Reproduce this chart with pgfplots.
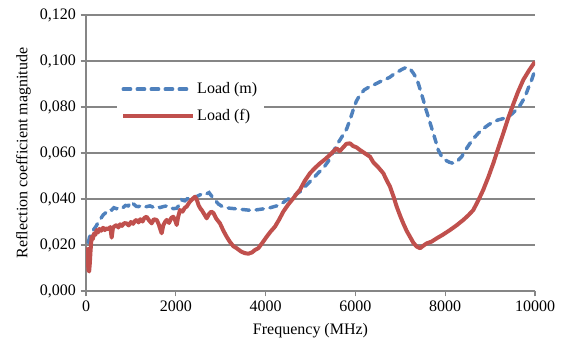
\documentclass[border=0pt]{standalone}
\usepackage{fontspec}
\setmainfont{Liberation Serif}
\usepackage{pgfplots}
\pgfplotsset{compat=1.18}
\definecolor{gridgray}{RGB}{134,134,134}
\definecolor{xlblue}{RGB}{79,129,189}
\definecolor{xlred}{RGB}{192,80,77}
\begin{document}
\begin{tikzpicture}
\useasboundingbox (-64.5pt,-40.5pt) rectangle (357.75pt,218.25pt);
\begin{axis}[
  scale only axis,
  width=336.75pt, height=207pt,
  xmin=0, xmax=10000, ymin=0, ymax=0.12,
  xtick={0,2000,4000,6000,8000,10000},
  ytick={0,0.02,0.04,0.06,0.08,0.1,0.12},
  scaled y ticks=false, scaled x ticks=false,
  axis lines*=left,
  axis line style={gridgray, line width=0.8pt, -},
  tick style={gridgray, line width=0.8pt},
  tick align=outside,
  major tick length=4pt,
  ymajorgrids,
  grid style={gridgray, line width=0.8pt},
  /pgf/number format/assume math mode=true,
  xticklabel style={/pgf/number format/.cd, fixed, 1000 sep={}},
  yticklabel style={/pgf/number format/.cd, fixed, fixed zerofill, precision=3, use comma},
  ticklabel style={font=\fontsize{12}{14}\selectfont},
  xlabel={Frequency (MHz)},
  ylabel={Reflection coefficient magnitude},
  label style={font=\fontsize{12}{14}\selectfont},
  xlabel style={yshift=-2pt},
  legend style={at={(rel axis cs:0.069,0.78)}, anchor=north west, draw=none, fill=white,
    font=\fontsize{12}{14}\selectfont, row sep=6pt, inner sep=3pt},
  legend cell align=left,
  legend image code/.code={\draw[#1] (0pt,0pt) -- (52pt,0pt);},
]
\addplot[xlblue, line width=2.6pt, dash pattern=on 5.5pt off 5pt, line cap=round] coordinates {
(50,0.021) (80,0.0235) (120,0.0245) (163,0.0265) (220,0.028) (274,0.030) (330,0.0315)
(380,0.033) (423,0.0338) (480,0.0345) (530,0.0355) (572,0.0352) (620,0.0362) (680,0.0358)
(757,0.0367) (820,0.0362) (880,0.0372) (940,0.0370) (1017,0.0388) (1060,0.0378) (1120,0.0368)
(1165,0.0367) (1250,0.0372) (1330,0.0366) (1425,0.0370) (1500,0.0364) (1580,0.0369)
(1650,0.0363) (1722,0.0367) (1800,0.0370) (1870,0.0362) (1950,0.0358) (2020,0.0360)
(2080,0.0375) (2131,0.0396) (2200,0.0392) (2280,0.0405) (2390,0.0403) (2480,0.0412)
(2560,0.0420) (2612,0.0425) (2680,0.0422) (2740,0.0428) (2835,0.0403) (2950,0.0378)
(3058,0.0364) (3200,0.0360) (3356,0.0357) (3500,0.0354) (3652,0.0351) (3800,0.0353)
(3949,0.0357) (4100,0.0362) (4246,0.0370) (4360,0.0380) (4469,0.0396) (4620,0.0412)
(4766,0.0432) (4900,0.0458) (5062,0.049) (5180,0.0515) (5285,0.0534) (5400,0.0565)
(5508,0.0606) (5600,0.064) (5657,0.0657) (5730,0.068) (5806,0.0705) (5880,0.0745)
(5950,0.0787) (6020,0.0825) (6102,0.0853) (6200,0.0875) (6325,0.0889) (6450,0.0900)
(6547,0.0910) (6650,0.0918) (6770,0.0930) (6870,0.0945) (6955,0.0954) (7050,0.0965)
(7142,0.0973) (7220,0.0965) (7290,0.0947) (7350,0.0928) (7400,0.0903) (7460,0.0865)
(7512,0.0831) (7570,0.0790) (7623,0.0758) (7680,0.0720) (7735,0.0686) (7790,0.0650)
(7846,0.0613) (7920,0.0585) (7995,0.0570) (8090,0.0560) (8180,0.0555) (8270,0.0565)
(8367,0.0584) (8460,0.0615) (8552,0.0642) (8640,0.0665) (8737,0.0686) (8850,0.0706)
(8960,0.0722) (9070,0.0735) (9182,0.0744) (9300,0.0750) (9405,0.0758) (9500,0.0772)
(9591,0.0790) (9670,0.0808) (9739,0.0831) (9800,0.0856) (9850,0.0882) (9920,0.0915)
(10000,0.0961)
};
\addlegendentry{Load (m)}
\addplot[xlred, line width=3pt, line join=round] coordinates {
(20,0.019) (40,0.013) (55,0.009) (70,0.0085) (85,0.012) (100,0.017) (115,0.021) (127,0.0236)
(150,0.0225) (180,0.025) (210,0.0245) (238,0.0265) (270,0.0255) (300,0.027) (340,0.0262)
(380,0.0275) (420,0.0265) (461,0.0273) (500,0.0268) (540,0.0278) (572,0.0232) (600,0.0275)
(640,0.0282) (683,0.0287) (720,0.0276) (760,0.0290) (800,0.0283) (850,0.0295) (906,0.0294)
(950,0.0285) (1000,0.0300) (1050,0.0292) (1090,0.0305) (1129,0.0309) (1170,0.0298)
(1210,0.0312) (1260,0.0302) (1300,0.0318) (1351,0.0323) (1400,0.0308) (1463,0.0294)
(1510,0.0312) (1574,0.0309) (1620,0.0290) (1660,0.0265) (1685,0.0251) (1720,0.0285)
(1760,0.0300) (1797,0.0309) (1850,0.0296) (1900,0.0318) (1945,0.0323) (1990,0.0305)
(2020,0.0287) (2050,0.0320) (2093,0.0352) (2150,0.0345) (2200,0.0362) (2243,0.0367)
(2300,0.0385) (2360,0.0398) (2427,0.0410) (2470,0.0395) (2510,0.0372) (2550,0.0358)
(2577,0.0352) (2620,0.0338) (2688,0.0316) (2740,0.0335) (2790,0.0345) (2835,0.0340)
(2900,0.0315) (2984,0.0294) (3060,0.0262) (3133,0.0236) (3200,0.0215) (3280,0.0195)
(3356,0.0186) (3450,0.0172) (3530,0.0165) (3614,0.0162) (3700,0.0168) (3760,0.0178)
(3837,0.0186) (3930,0.0210) (4024,0.0236) (4110,0.0258) (4209,0.0280) (4300,0.0310)
(4394,0.0345) (4500,0.0375) (4617,0.0403) (4700,0.0425) (4766,0.0440) (4870,0.0478)
(4988,0.0512) (5100,0.0535) (5211,0.0555) (5320,0.0572) (5434,0.0592) (5500,0.0605)
(5583,0.0620) (5650,0.0608) (5730,0.0625) (5800,0.0640) (5879,0.0642) (5950,0.0630)
(6020,0.0625) (6102,0.0613) (6200,0.0600) (6325,0.0584) (6398,0.0560) (6500,0.0540)
(6621,0.0512) (6700,0.0480) (6770,0.0454) (6850,0.0410) (6919,0.0367) (7000,0.0325)
(7066,0.0294) (7140,0.0262) (7215,0.0236) (7290,0.0210) (7365,0.0193) (7440,0.0186)
(7500,0.0195) (7587,0.0207) (7700,0.0215) (7810,0.0229) (7950,0.0245) (8106,0.0265)
(8250,0.0285) (8403,0.0309) (8520,0.0330) (8625,0.0352) (8740,0.0395) (8848,0.0440)
(8960,0.0495) (9071,0.0555) (9180,0.0620) (9294,0.0686) (9400,0.0750) (9516,0.0812)
(9620,0.0865) (9739,0.0918) (9870,0.0960) (10000,0.0997)
};
\addlegendentry{Load (f)}
\end{axis}
\end{tikzpicture}
\end{document}
